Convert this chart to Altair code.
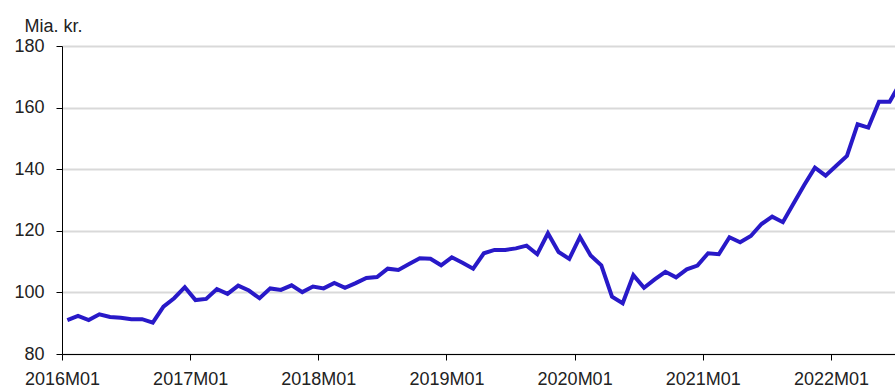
import altair as alt
import pandas as pd

# Monthly values, 2016M01 onward (Mia. kr.)
values = [
    91.0, 92.4, 91.0, 92.9, 92.0, 91.8, 91.3, 91.3, 90.2, 95.4, 98.1, 101.7,
    97.5, 97.9, 101.1, 99.5, 102.2, 100.6, 98.1, 101.3, 100.8, 102.3, 100.1, 101.9,
    101.3, 103.1, 101.5, 103.0, 104.7, 105.0, 107.7, 107.3, 109.2, 111.1, 110.9, 108.8,
    111.4, 109.6, 107.7, 112.7, 113.8, 113.8, 114.3, 115.2, 112.4, 119.2, 113.1, 110.9,
    118.0, 112.0, 108.8, 98.6, 96.5, 105.6, 101.5, 104.2, 106.7, 104.9, 107.5, 108.7,
    112.7, 112.4, 117.9, 116.3, 118.3, 122.2, 124.6, 122.8, 128.9, 134.9, 140.5, 137.9,
    141.1, 144.3, 154.6, 153.5, 161.9, 161.9, 168.0,
]
months = [f"{2016 + k // 12}M{k % 12 + 1:02d}" for k in range(len(values))]
tick_labels = ["2016M01", "2017M01", "2018M01", "2019M01", "2020M01", "2021M01", "2022M01"]
y_ticks = [80, 100, 120, 140, 160, 180]

df = pd.DataFrame({"month": months, "value": values})
df["pos"] = [k + 0.5 for k in range(len(values))]

tick_pos = [months.index(t) for t in tick_labels]
label_map = {p: t for p, t in zip(tick_pos, tick_labels)}
label_expr = " : ".join(
    [f"datum.value == {p} ? '{t}'" for p, t in label_map.items()] + ["''"]
)

FONT = "Liberation Sans"

chart = (
    alt.Chart(df)
    .mark_line(color="#2819c8", strokeWidth=4, clip=True)
    .encode(
        x=alt.X(
            "pos:Q",
            scale=alt.Scale(domain=[0, 78], nice=False, zero=False),
            axis=alt.Axis(
                values=tick_pos,
                labelExpr=label_expr,
                title=None,
                grid=False,
                domainColor="black",
                domainWidth=1,
                tickColor="black",
                tickSize=6,
                labelPadding=10,
                labelFont=FONT,
                labelFontSize=18,
                labelColor="#222222",
                labelFlush=False,
                labelOverlap=False,
            ),
        ),
        y=alt.Y(
            "value:Q",
            scale=alt.Scale(domain=[80, 180], nice=False, zero=False),
            axis=alt.Axis(
                values=y_ticks,
                title="Mia. kr.",
                titleAngle=0,
                titleAlign="left",
                titleBaseline="alphabetic",
                titleX=-38,
                titleY=-15,
                titleFont=FONT,
                titleFontSize=18,
                titleFontWeight="normal",
                titleColor="#222222",
                grid=True,
                gridColor="#d9d9d9",
                gridWidth=2,
                domainColor="black",
                domainWidth=1,
                tickColor="black",
                tickSize=6,
                labelPadding=12,
                labelFont=FONT,
                labelFontSize=18,
                labelColor="#222222",
            ),
        ),
    )
    .properties(
        width=833,
        height=308,
        autosize=alt.AutoSizeParams(type="none"),
        padding={"left": 62, "top": 46, "right": 0, "bottom": 34},
    )
    .configure_view(stroke=None)
    .configure(background="white")
)

chart.save("out.html", embed_options={"renderer": "svg", "actions": False})
